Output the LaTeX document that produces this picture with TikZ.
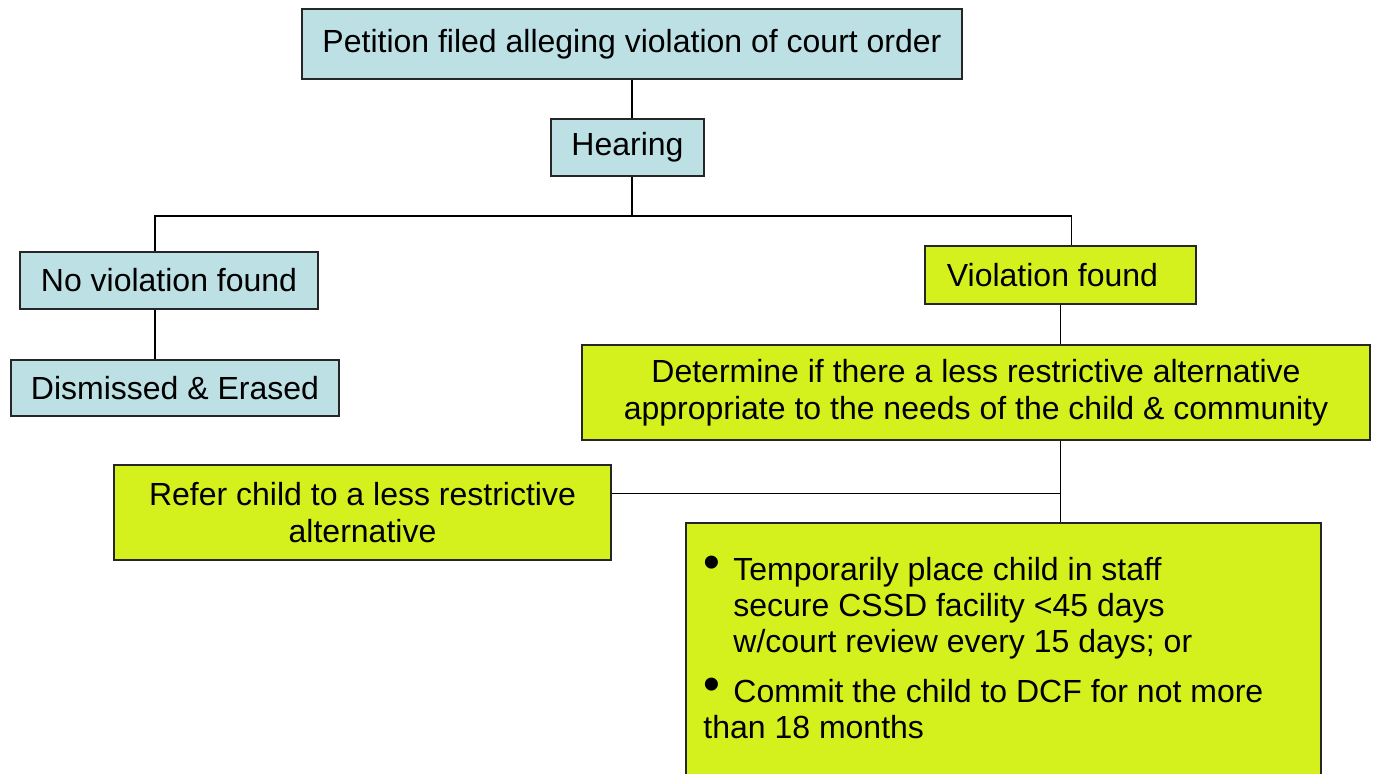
\documentclass[tikz,border=0pt]{standalone}
\usepackage{fontspec}
\setmainfont{Liberation Sans}
\usepackage{xcolor}
\usepackage{tikz}
\usetikzlibrary{positioning}

\definecolor{hearblue}{HTML}{BCE0E4}
\definecolor{limegreen}{HTML}{D4F11E}
\newcommand{\bigdot}{\makebox[15pt][l]{\raisebox{1pt}{\fontsize{24}{18}\selectfont\textbullet}}}

\begin{document}
\begin{tikzpicture}[x=0.5pt,y=-0.5pt,thin]
                \tikzset{box/.style={draw=black!85, line width=0.8pt, inner sep=0pt, align=center,
                                font=\fontsize{16}{18.5}\selectfont},
                         bluebox/.style={box, fill=hearblue},
                         greenbox/.style={box, fill=limegreen},
                         link/.style={draw=black, line width=0.7pt}}
                \useasboundingbox (0,0) rectangle (1377,773);
                \node[bluebox, minimum width=330pt, minimum height=35pt] (petition) at (632,44) {Petition filed alleging violation of court order};
                \node[bluebox, minimum width=76.5pt, minimum height=28.5pt] (hearing) at (627.5,147.5) {Hearing};
                \node[bluebox, minimum width=149pt, minimum height=28.5pt] (novio) at (169,280.5) {No violation found};
                \node[bluebox, minimum width=164pt, minimum height=28pt] (dismissed) at (175,388) {Dismissed \& Erased};
                \node[greenbox, minimum width=135.5pt, minimum height=29pt] (viofound) at (1060.5,275) {Violation found\hspace{8pt}};
                \node[greenbox, minimum width=394pt, minimum height=47.5pt] (determine) at (976,392.5) {Determine if there a less restrictive alternative\\appropriate to the needs of the child \& community};
                \node[greenbox, minimum width=248.5pt, minimum height=47.5pt] (refer) at (362.5,512.5) {Refer child to a less restrictive\\alternative};
                \node[greenbox, minimum width=317.5pt, minimum height=140pt] (commit) at (1003.5,663) {};
                \node[anchor=north west, inner sep=0pt, align=left, font=\fontsize{16}{18}\selectfont] (committext) at (703,556)
                        {\bigdot Temporarily place child in staff\\
                         \hspace*{15pt}secure CSSD facility <45 days\\
                         \hspace*{15pt}w/court review every 15 days; or\\[7pt]
                         \bigdot Commit the child to DCF for not more\\
                         than 18 months};
                \coordinate (fork) at (632,216);
                \path[link] (petition.south) -- (petition.south |- hearing.north);
                \path[link] (hearing.south -| fork) -- (fork);
                \path[link] ([xshift=-7pt]novio.north) |- (fork) -| ([xshift=5.5pt]viofound.north);
                \path[link] ([xshift=-7pt]novio.south) -- ([xshift=-7pt]novio.south |- dismissed.north);
                \path[link] (viofound.south) -- (viofound.south |- determine.north);
                \path[link] (viofound.south |- determine.south) -- (viofound.south |- commit.north);
                \path[link] ([yshift=9.5pt]refer.east) -- ([yshift=9.5pt]refer.east -| viofound.south);
            \end{tikzpicture}
\end{document}
